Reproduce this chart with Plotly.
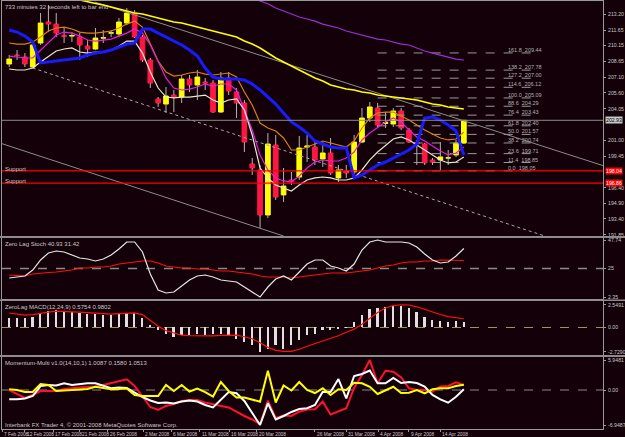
import plotly.graph_objects as go

# ---------------- data ----------------
bar_index = list(range(59))

open_ = [208.37, 209.24, 209.05, 208.08, 210.40, 212.43, 212.23, 211.12, 211.07, 210.98,
         210.11, 209.82, 210.88, 211.36, 211.27, 212.33, 213.30, 210.98, 208.76, 204.99,
         204.50, 205.37, 205.18, 206.92, 206.34, 206.63, 206.53, 203.73, 207.02, 205.66,
         204.60, 198.71, 198.13, 193.78, 200.54, 195.72, 197.16, 197.45, 200.35, 200.35,
         199.19, 199.77, 197.36, 198.03, 197.94, 200.83, 203.15, 204.12, 202.62, 202.57,
         203.83, 201.99, 200.78, 200.64, 199.10, 199.10, 199.29, 199.58, 200.73]
high = [209.24, 209.72, 209.43, 210.50, 213.30, 214.07, 213.30, 211.85, 211.46, 211.36,
        210.69, 211.85, 211.65, 211.65, 212.81, 213.78, 213.59, 211.17, 208.95, 205.18,
        206.15, 205.86, 207.31, 207.31, 207.79, 207.02, 206.82, 207.60, 207.60, 206.05,
        204.89, 199.29, 198.61, 201.70, 201.51, 198.32, 197.94, 201.41, 201.51, 201.03,
        200.83, 201.22, 198.61, 198.61, 201.51, 204.12, 204.70, 204.60, 203.73, 204.12,
        204.12, 202.19, 201.03, 200.73, 199.29, 200.83, 200.06, 201.03, 202.96]
low = [208.08, 208.76, 208.08, 207.98, 210.21, 211.46, 210.98, 210.40, 210.50, 208.76,
       209.05, 209.72, 210.40, 210.98, 210.98, 212.14, 210.88, 208.56, 206.05, 204.22,
       203.64, 203.73, 204.60, 205.66, 204.89, 205.86, 203.64, 203.64, 205.37, 203.15,
       199.87, 197.65, 192.53, 193.49, 195.23, 195.04, 196.68, 197.16, 198.90, 198.61,
       198.42, 197.65, 196.97, 197.36, 197.74, 200.73, 202.77, 202.28, 202.19, 202.28,
       201.99, 200.73, 198.61, 198.61, 198.61, 198.13, 198.61, 199.39, 200.64]
close = [208.85, 209.19, 208.37, 210.21, 212.33, 212.23, 211.36, 211.02, 211.12, 210.21,
         209.82, 210.88, 210.90, 211.38, 212.43, 213.30, 210.98, 208.76, 206.53, 204.60,
         205.28, 205.18, 206.92, 206.34, 207.11, 206.53, 203.73, 207.02, 205.76, 204.60,
         200.83, 198.32, 193.78, 200.64, 195.52, 196.58, 196.97, 200.25, 200.44, 199.10,
         199.77, 197.84, 198.13, 197.84, 200.83, 203.15, 204.22, 202.47, 202.72, 203.83,
         202.19, 200.83, 200.70, 198.81, 198.90, 199.39, 199.30, 200.73, 202.93]

ma_blue = [211.65, 211.46, 211.07, 210.50, 208.47, 208.56, 208.66, 208.76, 208.85, 208.95,
           209.24, 209.43, 209.53, 209.72, 210.01, 210.30, 210.40, 211.75, 211.75, 211.36,
           210.98, 210.59, 210.21, 209.72, 209.14, 207.98, 207.11, 206.92, 206.92, 206.92,
           206.82, 206.44, 205.86, 205.18, 204.50, 203.64, 202.77, 202.28, 201.70, 200.93,
           200.64, 200.35, 200.25, 200.25, 197.36, 197.65, 198.13, 198.61, 198.90, 199.29,
           199.68, 200.06, 200.64, 203.15, 203.25, 202.96, 202.47, 201.90, 199.58]
ma_orange = [210.40, 210.30, 210.30, 210.50, 210.98, 211.56, 211.85, 211.94, 211.75, 211.46,
             211.36, 211.36, 211.46, 211.56, 211.85, 212.23, 212.52, 211.94, 210.30, 208.66,
             207.60, 207.21, 207.31, 207.50, 207.60, 207.40, 207.31, 207.40, 207.50, 207.11,
             205.66, 204.41, 202.67, 202.19, 201.90, 201.22, 200.06, 200.06, 200.35, 200.64,
             200.93, 200.74, 200.54, 200.35, 200.93, 202.19, 203.15, 203.64, 203.73, 203.73,
             203.35, 202.96, 202.47, 201.99, 201.61, 201.22, 201.03, 201.12, 201.80]
ma_magenta = [209.14, 209.05, 208.95, 208.95, 209.72, 210.50, 211.17, 211.46, 211.36, 211.07,
              210.69, 210.59, 210.69, 210.78, 211.07, 211.36, 211.75, 211.36, 210.21, 208.56,
              207.02, 206.05, 205.86, 205.95, 206.15, 206.44, 206.24, 206.44, 206.44, 205.86,
              203.93, 201.99, 199.58, 198.13, 197.36, 197.07, 196.97, 197.55, 198.32, 198.90,
              199.10, 199.00, 199.00, 199.29, 199.87, 201.03, 201.70, 202.28, 202.77, 203.15,
              202.77, 201.99, 201.32, 200.93, 200.44, 199.96, 199.58, 199.77, 200.35]
ma_white = [207.89, 207.79, 207.79, 207.98, 208.56, 209.14, 209.63, 209.82, 209.92, 209.53,
            209.43, 209.53, 209.53, 209.72, 210.11, 210.59, 210.59, 209.43, 207.60, 206.05,
            205.18, 205.09, 205.18, 205.18, 205.28, 205.37, 204.89, 204.60, 204.89, 204.99,
            203.93, 201.51, 198.32, 197.36, 196.68, 196.39, 196.10, 196.68, 197.16, 197.36,
            197.45, 197.36, 197.16, 197.16, 197.36, 198.13, 199.10, 199.87, 200.54, 201.12,
            201.32, 201.03, 200.54, 200.06, 199.58, 199.10, 198.81, 198.90, 199.39]
ma_yellow = [None, None, None, None, None, None, None, None,
             214.74, 214.55, 214.36, 214.21, 214.07, 213.88, 213.68, 213.49, 213.30, 213.20,
             213.01, 212.81, 212.62, 212.43, 212.33, 212.14, 211.94, 211.75, 211.56, 211.36,
             211.17, 210.98, 210.59, 210.30, 209.92, 209.43, 208.95, 208.56, 208.18, 207.79,
             207.40, 207.02, 206.73, 206.34, 206.15, 205.95, 205.86, 205.66, 205.57, 205.37,
             205.28, 205.18, 205.09, 204.99, 204.89, 204.70, 204.50, 204.41, 204.22, 204.12,
             204.02]
ma_purple = [None] * 31 + [214.74, 214.46, 214.19, 213.78, 213.49, 213.20, 212.91, 212.72,
                           212.52, 212.23, 212.04, 211.85, 211.56, 211.36, 211.17, 210.98,
                           210.78, 210.69, 210.50, 210.30, 210.21, 209.92, 209.63, 209.43,
                           209.24, 209.05, 208.85, 208.76]

# trend channel (bar, price) end points
trend_dotted = ([3.0, 69.0], [207.98, 191.58])
trend_lower = ([-1.2, 35.0], [200.74, 191.75])
trend_upper = ([10.9, 76.3], [214.36, 198.42])

support_levels = [198.04, 196.86]
last_price = 202.93

fibo_pct = ["0.0", "11.4", "23.6", "38.2", "50.0", "61.8", "76.4", "88.6", "100.0",
            "114.6", "127.2", "138.2", "161.8"]
fibo_price = [198.05, 198.85, 199.71, 200.74, 201.57, 202.40, 203.43, 204.29, 205.09,
              206.12, 207.00, 207.78, 209.44]
fibo_bar_span = [47.0, 67.0]

stoch_main = [17.48, 18.28, 19.07, 23.85, 31.81, 37.39, 38.98, 38.18, 35.79, 33.41,
              32.61, 31.02, 32.61, 35.79, 40.57, 46.15, 46.15, 38.18, 20.67, 7.93,
              5.54, 6.33, 11.11, 15.89, 19.07, 19.87, 18.28, 15.89, 15.09, 14.30,
              10.31, 6.33, 2.35, 10.31, 16.68, 19.07, 15.89, 22.26, 28.63, 31.81,
              31.81, 27.04, 25.44, 23.05, 28.63, 39.78, 46.15, 47.74, 46.15, 46.15,
              46.15, 45.35, 42.17, 36.59, 31.81, 29.42, 30.22, 35.00, 40.93]
stoch_signal = [19.87, 19.47, 19.07, 20.67, 21.46, 21.86, 22.26, 23.05, 23.85, 25.44,
                25.44, 26.24, 26.24, 27.04, 28.63, 29.42, 30.22, 31.02, 31.02, 29.42,
                27.04, 26.24, 25.44, 25.44, 24.65, 24.65, 23.85, 23.05, 23.05, 22.26,
                21.46, 20.67, 19.07, 18.28, 18.28, 18.28, 17.48, 18.28, 19.07, 19.87,
                20.67, 21.46, 21.46, 21.46, 22.26, 23.05, 23.85, 25.44, 27.04, 27.83,
                29.42, 30.22, 30.22, 31.02, 31.02, 31.81, 31.81, 31.81, 31.42]
stoch_level = 25

macd_hist = [1.08, 1.08, 1.08, 1.20, 1.65, 1.84, 1.95, 1.84, 1.76, 1.65,
             1.47, 1.47, 1.39, 1.39, 1.47, 1.58, 1.58, 1.02, 0.26, -0.31,
             -0.68, -1.06, -0.87, -0.87, -0.68, -0.79, -0.68, -0.68, -0.87, -1.24,
             -1.63, -2.00, -2.73, -2.37, -2.00, -2.37, -2.00, -1.44, -0.87, -0.68,
             -0.31, -0.23, -0.11, 0.05, 0.57, 1.39, 2.07, 2.21, 2.33, 2.44,
             2.44, 2.15, 1.70, 1.20, 0.82, 0.71, 0.63, 0.71, 0.58]
macd_signal = [1.62, 1.50, 1.39, 1.45, 1.62, 1.73, 1.84, 1.84, 1.76, 1.73,
               1.67, 1.58, 1.55, 1.50, 1.56, 1.58, 1.64, 1.45, 0.82, 0.15,
               -0.36, -0.64, -0.87, -0.93, -0.95, -0.95, -0.95, -0.89, -0.87, -0.87,
               -1.04, -1.27, -1.72, -2.23, -2.57, -2.68, -2.68, -2.45, -2.11, -1.83,
               -1.55, -1.27, -0.93, -0.53, -0.19, 0.37, 1.05, 1.67, 2.18, 2.46,
               2.55, 2.52, 2.32, 2.01, 1.73, 1.45, 1.22, 1.08, 0.98]

mom_red = [0.00, -0.79, -1.59, -0.99, -0.20, -0.20, -0.20, 0.20, 0.40, 0.50,
           0.60, 0.69, 0.99, 1.39, 1.79, 2.12, 0.79, -1.39, -3.37, -3.97,
           -3.17, -2.78, -2.18, -1.98, -1.98, -2.48, -2.88, -3.17, -3.47, -4.36,
           -5.16, -5.85, -6.75, -2.12, -5.56, -5.06, -5.16, -4.31, -3.87, -3.83,
           -2.32, -4.86, -4.17, -3.63, 0.40, 2.98, 5.95, 1.33, 3.83, 3.63,
           2.48, 0.34, 0.00, 0.00, -0.34, 0.69, 0.79, 1.53, 1.01]
mom_white = [-1.85, -1.85, -1.69, -1.19, 0.79, 0.99, 0.89, 1.33, 0.99, 1.19,
             1.33, 1.33, 0.79, 0.34, 0.50, 0.40, -0.50, -1.39, -2.08, -2.58,
             -2.48, -2.68, -2.28, -2.08, -2.28, -2.98, -3.47, -1.98, -0.40, -0.65,
             -2.18, -4.56, -6.94, -2.64, -5.85, -5.16, -4.36, -3.77, -3.63, -2.98,
             -0.34, -0.40, 2.18, -1.65, 2.78, 3.17, 3.87, 1.33, 1.33, 2.38,
             1.39, 1.59, 1.39, 0.69, -0.99, -1.85, -2.52, -1.33, 0.16]
mom_yellow = [0.14, 0.00, -0.40, -0.40, 1.19, 0.99, -0.20, -0.10, 0.00, 0.00,
              0.20, 0.65, 0.40, 0.14, 0.20, 0.30, -0.99, -1.19, -1.19, -1.19,
              0.99, -0.20, 0.99, -0.30, 0.30, -0.40, -1.29, 1.59, -0.20, -1.49,
              -1.49, -1.88, -2.32, 3.83, -2.48, 0.89, -0.10, 1.59, 0.00, -0.60,
              0.34, -0.99, 0.14, 0.00, 1.45, 1.33, 0.65, -0.79, 0.00, 0.65,
              -0.60, -0.54, 0.00, -0.65, 0.14, 0.34, 0.34, 0.79, 1.05]

# price-axis labels (202.55 and 197.95 sit under the price boxes)
price_ticks = [213.20, 211.65, 210.15, 208.65, 207.10, 205.60, 204.05, 201.00,
               199.45, 196.40, 194.90, 193.40, 191.85]
stoch_ticks = [47.74, 25, 2.35]
stoch_ticktext = ["47.74", "25", "2.35"]
macd_ticks = [2.5491, 0.0, -2.7290]
macd_ticktext = ["2.5491", "0.00", "-2.7290"]
mom_ticks = [5.9481, 0.0, -6.9487]
mom_ticktext = ["5.9481", "0.00", "-6.9487"]

date_labels = ["7 Feb 2008", "12 Feb 2008", "17 Feb 2008", "21 Feb 2008", "26 Feb 2008",
               "2 Mar 2008", "6 Mar 2008", "11 Mar 2008", "16 Mar 2008", "20 Mar 2008",
               "26 Mar 2008", "31 Mar 2008", "4 Apr 2008", "9 Apr 2008", "14 Apr 2008"]
date_label_bars = [-0.9, 2.0, 5.6, 9.0, 12.6, 17.1, 20.7, 24.3, 28.1, 31.6,
                   39.0, 43.0, 47.1, 51.0, 55.0]

# ---------------- style ----------------
BG = "#140008"
FRAME = "#9a9a9a"
TXT = "#c8c8c8"
FONT = "Liberation Sans Narrow, Liberation Sans, Arial"
FS = 6
TFS = 5.2
W, H = 625, 437
ML, MR, MT, MB = 2, 22, 1, 8
PH = H - MT - MB
PW = W - ML - MR
XR = [-0.92, 75.75]


def py(p):  # pixel row -> paper y
    return (H - MB - p) / PH


def bx(b):  # bar position -> paper x
    return (b - XR[0]) / (XR[1] - XR[0])


fig = go.Figure()

# wicks (split above / below the body)
wx, wy = [], []
for i, o, h, l, c in zip(bar_index, open_, high, low, close):
    top, bot = max(o, c), min(o, c)
    wx += [i, i, None, i, i, None]
    wy += [h, top, None, bot, l, None]
fig.add_trace(go.Scatter(x=wx, y=wy, mode="lines", line=dict(color="#b4b4b4", width=1),
                         xaxis="x", yaxis="y", hoverinfo="skip"))

body_hi = [max(o, c) for o, c in zip(open_, close)]
body_lo = [min(o, c) for o, c in zip(open_, close)]
fig.add_trace(go.Candlestick(
    x=bar_index, open=open_, high=body_hi, low=body_lo, close=close,
    increasing=dict(fillcolor="#ffff00", line=dict(color="#ffff00", width=1)),
    decreasing=dict(fillcolor="#ff1744", line=dict(color="#ff1744", width=1)),
    whiskerwidth=0, xaxis="x", yaxis="y", hoverinfo="skip"))

# trend channel
fig.add_trace(go.Scatter(x=trend_dotted[0], y=trend_dotted[1], mode="lines",
                         line=dict(color="#a8a8a8", width=1, dash="dot"), xaxis="x", yaxis="y"))
for tl in (trend_lower, trend_upper):
    fig.add_trace(go.Scatter(x=tl[0], y=tl[1], mode="lines",
                             line=dict(color="#8c8c8c", width=1), xaxis="x", yaxis="y"))

# fibonacci levels
for lvl in fibo_price:
    fig.add_trace(go.Scatter(x=fibo_bar_span, y=[lvl, lvl], mode="lines",
                             line=dict(color="#9a9a9a", width=1, dash="dash"),
                             xaxis="x", yaxis="y"))

# moving averages
for ys, col, wd in [(ma_purple, "#9b30d9", 1.2), (ma_yellow, "#ffff00", 1.6),
                    (ma_orange, "#d9820f", 1.2), (ma_magenta, "#e020e0", 1.2),
                    (ma_white, "#e8e8d0", 1.2), (ma_blue, "#1a1aff", 3)]:
    fig.add_trace(go.Scatter(x=bar_index, y=ys, mode="lines", line=dict(color=col, width=wd),
                             xaxis="x", yaxis="y", connectgaps=False))

# stochastic
fig.add_trace(go.Scatter(x=bar_index, y=stoch_signal, mode="lines",
                         line=dict(color="#ff1010", width=1.2), xaxis="x2", yaxis="y2"))
fig.add_trace(go.Scatter(x=bar_index, y=stoch_main, mode="lines",
                         line=dict(color="#e6e6e6", width=1.2), xaxis="x2", yaxis="y2"))

# MACD
fig.add_trace(go.Bar(x=bar_index, y=macd_hist, width=0.22,
                     marker=dict(color="#e0e0e0", line=dict(width=0)),
                     xaxis="x3", yaxis="y3"))
fig.add_trace(go.Scatter(x=bar_index, y=macd_signal, mode="lines",
                         line=dict(color="#ff1010", width=1.2), xaxis="x3", yaxis="y3"))

# momentum
for ys, col in [(mom_red, "#ff1030"), (mom_white, "#ffffff"), (mom_yellow, "#ffff00")]:
    fig.add_trace(go.Scatter(x=bar_index, y=ys, mode="lines", line=dict(color=col, width=2),
                             xaxis="x4", yaxis="y4"))

# horizontal levels as shapes
shapes = []
shapes.append(dict(type="line", xref="paper", x0=0, x1=1, yref="y", y0=last_price, y1=last_price,
                   line=dict(color="#8a8a8a", width=1)))
for s in support_levels:
    shapes.append(dict(type="line", xref="paper", x0=0, x1=1, yref="y", y0=s, y1=s,
                       line=dict(color="#ff0000", width=1.2)))
shapes.append(dict(type="line", xref="paper", x0=0, x1=1, yref="y2", y0=stoch_level, y1=stoch_level,
                   line=dict(color="#8a8a8a", width=1.5, dash="dash"), layer="below"))
shapes.append(dict(type="line", xref="paper", x0=0, x1=1, yref="y3", y0=0, y1=0,
                   line=dict(color="#9a9a70", width=1, dash="dash"), layer="below"))
shapes.append(dict(type="line", xref="paper", x0=0, x1=1, yref="y4", y0=0, y1=0,
                   line=dict(color="#8a8a8a", width=1, dash="dash"), layer="below"))
# separator bands between windows
for a, b in [(236, 238), (299.5, 301), (355, 357)]:
    shapes.append(dict(type="rect", xref="paper", x0=-ML / PW, x1=1 + MR / PW, yref="paper",
                       y0=py(b), y1=py(a), fillcolor="#8c8c8c", line=dict(width=0)))

ann = []


def txt(s, x, y, xref="paper", yref="paper", xa="left", ya="top", color=TXT, size=FS, **kw):
    ann.append(dict(text=s, x=x, y=y, xref=xref, yref=yref, xanchor=xa, yanchor=ya,
                    showarrow=False, font=dict(family=FONT, size=size, color=color), **kw))


txt("733 minutes 32 seconds left to bar end", 1 / PW, py(2))
txt("Zero Lag Stoch 40.93 31.42", 1 / PW, py(239))
txt("ZeroLag MACD(12,24,9) 0.5754 0.9802", 1 / PW, py(302))
txt("Momentum-Multi v1.0(14,10,1) 1.0087 0.1580 1.0513", 1 / PW, py(358))
txt("Interbank FX Trader 4, © 2001-2008 MetaQuotes Software Corp.", 1 / PW, py(420))
for s in support_levels:
    txt("Support", 0.002, s, yref="y", ya="middle", yshift=2)
for pct, lvl in zip(fibo_pct, fibo_price):
    txt(f"{pct}  {lvl:.2f}", bx(63.4), lvl, yref="y", ya="bottom", yshift=-2, color="#b0b0b0",
        size=5.5)
# right-hand price boxes
txt(f"{last_price:.2f}", 1 + 2 / PW, last_price, yref="y", ya="middle", color="#000000",
    bgcolor="#c8c8c8", borderpad=0, size=TFS)
for s in support_levels:
    txt(f"{s:.2f}", 1 + 2 / PW, s, yref="y", ya="middle", color="#ffffff",
        bgcolor="#ff0000", borderpad=0, size=TFS)
for lab, b in zip(date_labels, date_label_bars):
    txt(lab, max(bx(b), -ML / PW), py(429.5), size=4.8)

common_x = dict(range=XR, showgrid=False, zeroline=False, showline=True, mirror=True,
                linecolor=FRAME, linewidth=1, showticklabels=False, ticks="", fixedrange=True,
                automargin=False)
common_y = dict(side="right", showgrid=False, zeroline=False, showline=True, mirror=True,
                linecolor=FRAME, linewidth=1, ticks="outside", ticklen=2, tickcolor=FRAME,
                tickfont=dict(family=FONT, size=TFS, color=TXT), fixedrange=True,
                automargin=False, tickmode="array", ticklabelstandoff=1)

fig.update_layout(
    template="none",
    width=W, height=H,
    margin=dict(l=ML, r=MR, t=MT, b=MB, pad=0),
    paper_bgcolor=BG, plot_bgcolor=BG,
    showlegend=False, hovermode=False,
    boxgap=0.4, boxgroupgap=0, bargap=0,
    font=dict(family=FONT, size=FS, color=TXT),
    xaxis=dict(common_x, anchor="y", rangeslider=dict(visible=False)),
    xaxis2=dict(common_x, anchor="y2"),
    xaxis3=dict(common_x, anchor="y3"),
    xaxis4=dict(common_x, anchor="y4", ticks="outside", ticklen=2, tickcolor=FRAME,
                tickvals=[b for b in date_label_bars if b > XR[0]]),
    yaxis=dict(common_y, anchor="x", domain=[py(236), py(1)], range=[191.75, 214.46],
               tickvals=price_ticks, ticktext=[f"{v:.2f}" for v in price_ticks]),
    yaxis2=dict(common_y, anchor="x2", domain=[py(299), py(238)], range=[0.76, 49.33],
                tickvals=stoch_ticks, ticktext=stoch_ticktext),
    yaxis3=dict(common_y, anchor="x3", domain=[py(355), py(301)], range=[-3.09, 2.97],
                tickvals=macd_ticks, ticktext=macd_ticktext),
    yaxis4=dict(common_y, anchor="x4", domain=[py(429), py(357)], range=[-7.74, 6.55],
                tickvals=mom_ticks, ticktext=mom_ticktext),
    shapes=shapes,
    annotations=ann,
)

fig.write_html("out.html")
